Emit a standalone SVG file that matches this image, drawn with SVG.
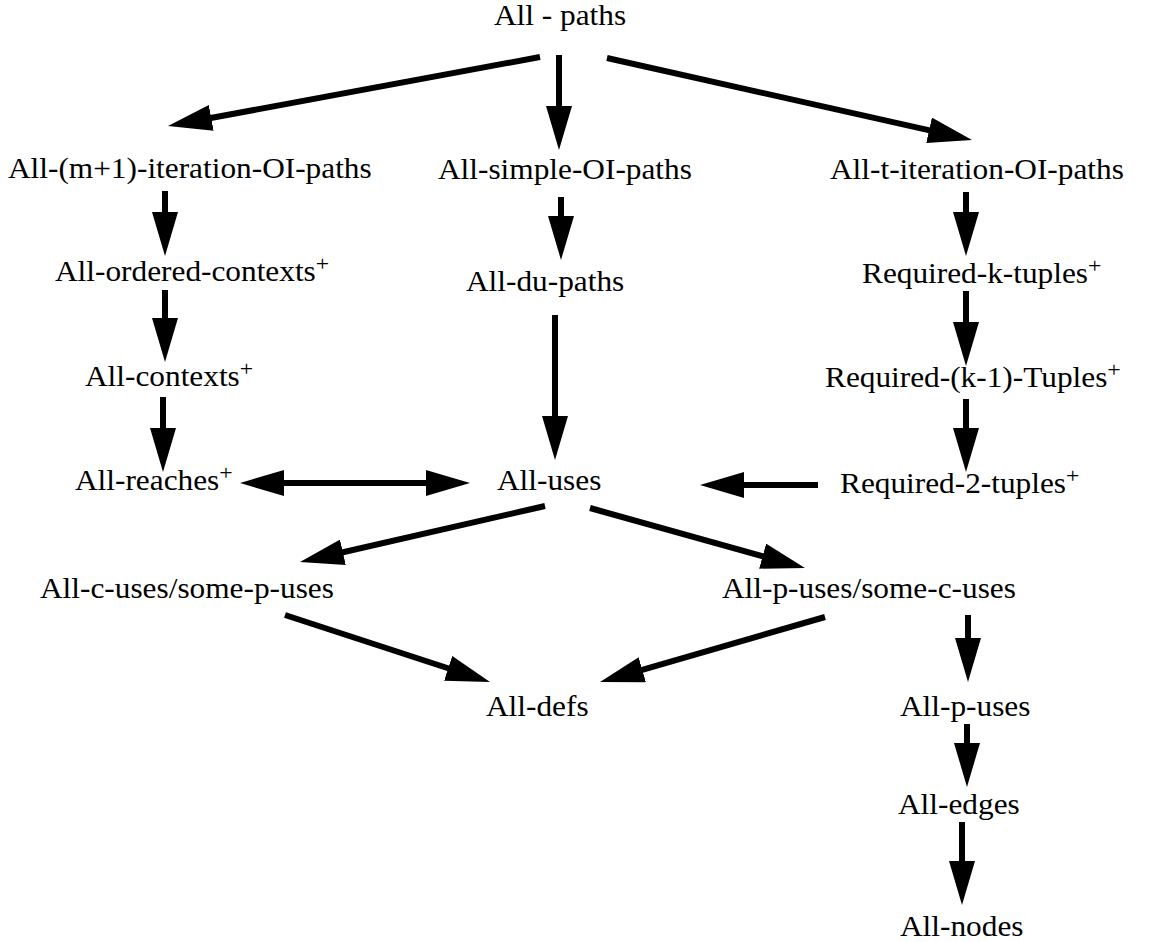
<svg xmlns="http://www.w3.org/2000/svg" width="1165" height="942" viewBox="0 0 1165 942">
  <style>
    .lbl { font-family: "Liberation Serif", "Times New Roman", serif; font-size: 29px; fill: #000; transform: scaleX(1.08); }
    .mid { text-anchor: middle; }
    .sup { font-size: 22px; }
    .edge { stroke: #000; stroke-width: 6; fill: none; marker-end: url(#head); }
    .both { marker-start: url(#head); }
  </style>
  <defs>
    <marker id="head" markerUnits="userSpaceOnUse" viewBox="0 0 44 26" refX="28" refY="13" markerWidth="44" markerHeight="26" orient="auto-start-reverse">
      <path d="M0,0 L44,13 L0,26 Z" fill="#000"/>
    </marker>
  </defs>
  <rect width="1165" height="942" fill="#fff"/>

  <!-- subsumption edges; each line stops 16px short of its arrow tip -->
  <g id="edges">
    <line class="edge" x1="540" y1="57" x2="183.7" y2="123.0"/>
    <line class="edge" x1="559" y1="55" x2="559" y2="134"/>
    <line class="edge" x1="607" y1="58" x2="956.4" y2="136.4"/>
    <line class="edge" x1="165" y1="191" x2="165" y2="240"/>
    <line class="edge" x1="561" y1="197" x2="561" y2="244"/>
    <line class="edge" x1="966" y1="192" x2="966" y2="240"/>
    <line class="edge" x1="165" y1="290" x2="165" y2="346"/>
    <line class="edge" x1="555" y1="315" x2="555" y2="444"/>
    <line class="edge" x1="966" y1="291" x2="966" y2="350"/>
    <line class="edge" x1="163" y1="397" x2="163" y2="456"/>
    <line class="edge" x1="966" y1="399" x2="966" y2="456"/>
    <line class="edge both" x1="256" y1="483" x2="454" y2="483"/>
    <line class="edge" x1="818" y1="485" x2="716" y2="485"/>
    <line class="edge" x1="545" y1="506" x2="315.6" y2="558.5"/>
    <line class="edge" x1="590" y1="508" x2="789.6" y2="563.7"/>
    <line class="edge" x1="285" y1="615" x2="474.8" y2="677.0"/>
    <line class="edge" x1="825" y1="617" x2="615.4" y2="677.6"/>
    <line class="edge" x1="968" y1="615" x2="968" y2="666"/>
    <line class="edge" x1="967" y1="724" x2="967" y2="771"/>
    <line class="edge" x1="962" y1="822" x2="962" y2="889"/>
  </g>

  <g id="all-paths" transform="translate(560 25)"><text class="lbl mid">All - paths</text></g>
  <g id="all-m1-iteration-oi-paths" transform="translate(8 178)"><text class="lbl">All-(m+1)-iteration-OI-paths</text></g>
  <g id="all-simple-oi-paths" transform="translate(438 179)"><text class="lbl">All-simple-OI-paths</text></g>
  <g id="all-t-iteration-oi-paths" transform="translate(830 179)"><text class="lbl">All-t-iteration-OI-paths</text></g>
  <g id="all-ordered-contexts" transform="translate(55 281)"><text class="lbl">All-ordered-contexts<tspan class="sup" dy="-10">+</tspan></text></g>
  <g id="all-du-paths" transform="translate(466 291)"><text class="lbl">All-du-paths</text></g>
  <g id="required-k-tuples" transform="translate(862 283)"><text class="lbl">Required-k-tuples<tspan class="sup" dy="-10">+</tspan></text></g>
  <g id="all-contexts" transform="translate(85 386)"><text class="lbl">All-contexts<tspan class="sup" dy="-10">+</tspan></text></g>
  <g id="required-k1-tuples" transform="translate(825 387)"><text class="lbl">Required-(k-1)-Tuples<tspan class="sup" dy="-10">+</tspan></text></g>
  <g id="all-reaches" transform="translate(75 490)"><text class="lbl">All-reaches<tspan class="sup" dy="-10">+</tspan></text></g>
  <g id="all-uses" transform="translate(497 490)"><text class="lbl">All-uses</text></g>
  <g id="required-2-tuples" transform="translate(840 493)"><text class="lbl">Required-2-tuples<tspan class="sup" dy="-10">+</tspan></text></g>
  <g id="all-c-uses-some-p-uses" transform="translate(40 598)"><text class="lbl">All-c-uses/some-p-uses</text></g>
  <g id="all-p-uses-some-c-uses" transform="translate(722 598)"><text class="lbl">All-p-uses/some-c-uses</text></g>
  <g id="all-defs" transform="translate(486 716)"><text class="lbl">All-defs</text></g>
  <g id="all-p-uses" transform="translate(900 716)"><text class="lbl">All-p-uses</text></g>
  <g id="all-edges" transform="translate(898 814)"><text class="lbl">All-edges</text></g>
  <g id="all-nodes" transform="translate(900 936)"><text class="lbl">All-nodes</text></g>
</svg>
